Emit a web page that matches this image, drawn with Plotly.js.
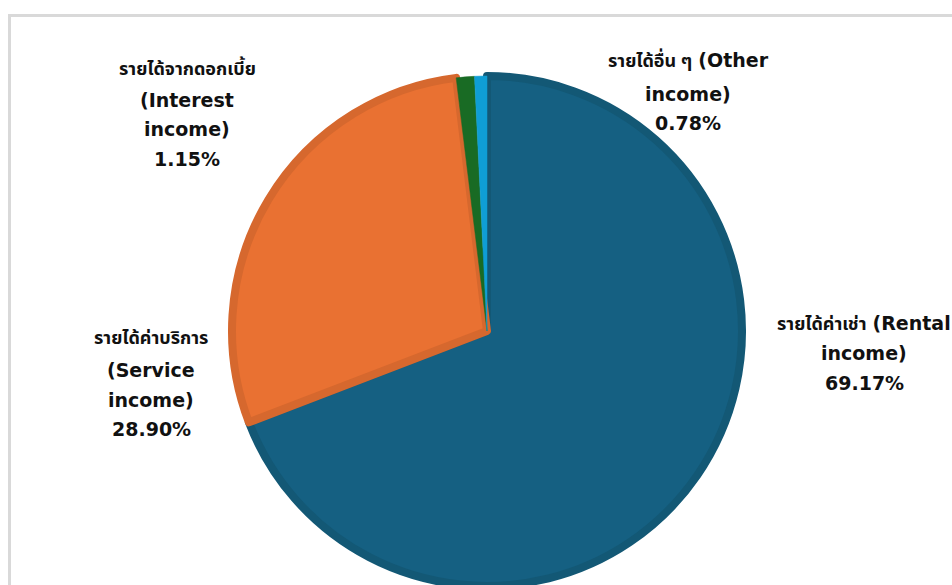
<!DOCTYPE html>
<html>
<head>
<meta charset="utf-8">
<script src="https://cdn.plot.ly/plotly-3.0.1.min.js"></script>
<style>
  html, body { margin:0; padding:0; width:952px; height:585px; overflow:hidden; background:#fff; }
  #frame { position:absolute; left:8px; top:14px; width:1000px; height:700px; border:3px solid #d9d9d9; box-sizing:border-box; }
  #chart { position:absolute; left:0; top:0; width:952px; height:700px; }
</style>
</head>
<body>
<div id="frame"></div>
<div id="chart"></div>
<script>
// ---- data ----
const labelsTh = ["รายได้ค่าเช่า", "รายได้ค่าบริการ", "รายได้จากดอกเบี้ย", "รายได้อื่น ๆ"];
const labelsEn = ["Rental income", "Service income", "Interest income", "Other income"];
const values = [69.17, 28.90, 1.15, 0.78];
const colors = ["#156082", "#E97132", "#196B24", "#0F9ED5"];
const borderColors = ["#135875", "#D6682E", "#196B24", "#0F9ED5"];

// ---- layout options for labels (pixel positions of label centres) ----
const labelOpts = [
  {x: 864, ys: [324, 353, 383], thaiWithFirst: true},
  {x: 151, ys: [338, 370, 400, 429], thaiWithFirst: false},
  {x: 187, ys: [70, 100, 129, 159], thaiWithFirst: false},
  {x: 688, ys: [62, 94, 123], thaiWithFirst: true}
];

const W = 952, H = 700;
const cx = 487, cy = 331, R = 255;

const fontEn = "DejaVu Sans, Verdana, sans-serif";
const thaiSpan = (t) => '<span style="font-family:Noto Sans Thai, Tahoma, sans-serif;font-size:18px;font-weight:bold">' + t + '</span>';

const annotations = [];
labelsEn.forEach((en, i) => {
  const words = en.split(" ");
  const first = "(" + words[0];
  const second = words.slice(1).join(" ") + ")";
  const pct = values[i].toFixed(2) + "%";
  const o = labelOpts[i];
  let lines;
  if (o.thaiWithFirst) {
    lines = [thaiSpan(labelsTh[i]) + " <b>" + first + "</b>", "<b>" + second + "</b>", "<b>" + pct + "</b>"];
  } else {
    lines = [thaiSpan(labelsTh[i]), "<b>" + first + "</b>", "<b>" + second + "</b>", "<b>" + pct + "</b>"];
  }
  lines.forEach((t, k) => {
    annotations.push({
      xref: "paper", yref: "paper",
      x: o.x / W, y: 1 - o.ys[k] / H,
      xanchor: "center", yanchor: "middle",
      text: t, showarrow: false,
      font: {family: fontEn, size: 19, color: "#111111"}
    });
  });
});

const trace = {
  type: "pie",
  values: values,
  labels: labelsEn,
  sort: false,
  direction: "clockwise",
  rotation: 0,
  textinfo: "none",
  hoverinfo: "label+percent",
  marker: {colors: colors, line: {color: borderColors, width: [8, 8, 0.5, 0.5]}},
  domain: {x: [(cx - R) / W, (cx + R) / W], y: [(H - cy - R) / H, (H - cy + R) / H]},
  showlegend: false
};

const layout = {
  width: W, height: H,
  margin: {l: 0, r: 0, t: 0, b: 0},
  paper_bgcolor: "rgba(0,0,0,0)",
  plot_bgcolor: "rgba(0,0,0,0)",
  showlegend: false,
  annotations: annotations
};

Plotly.newPlot("chart", [trace], layout, {displayModeBar: false, staticPlot: true});
</script>
</body>
</html>
